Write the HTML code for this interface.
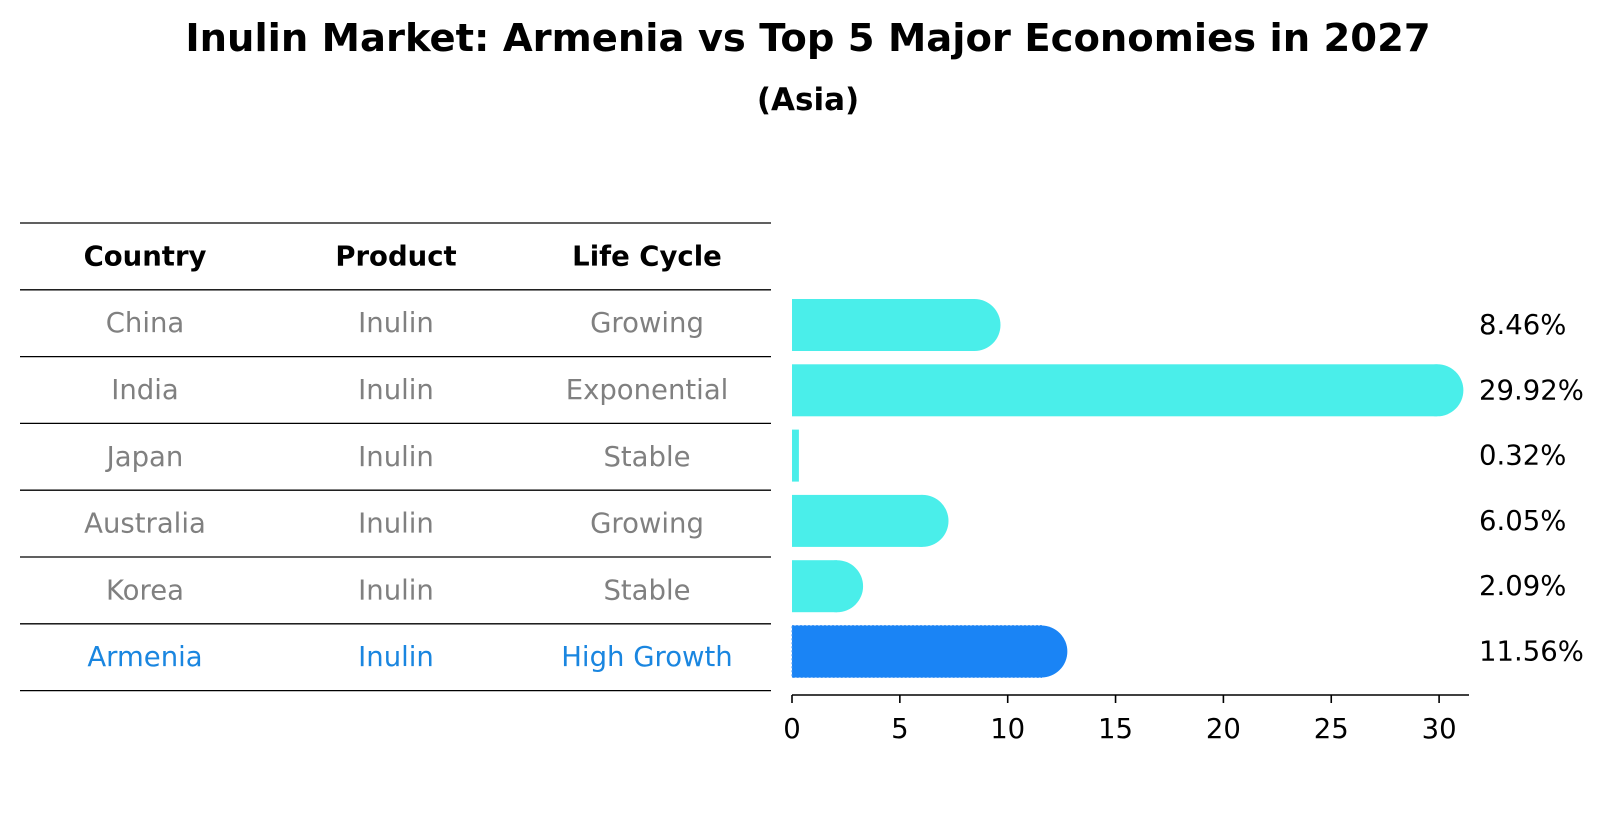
<!DOCTYPE html>
<html><head><meta charset="utf-8"><style>
body{margin:0;background:#fff}
svg{display:block;font-family:"DejaVu Sans","Liberation Sans",sans-serif}
</style></head><body>
<svg id="c" width="1604" height="823" viewBox="0 0 1604 823">
<text x="808" y="51" text-anchor="middle" font-size="38.5" font-weight="bold">Inulin Market: Armenia vs Top 5 Major Economies in 2027</text>
<text x="808" y="110" text-anchor="middle" font-size="31" font-weight="bold">(Asia)</text>
<g id="tbl"></g>
<g id="bars"></g>
</svg>
<script>
const countries=["China","India","Japan","Australia","Korea","Armenia"];
const products=["Inulin","Inulin","Inulin","Inulin","Inulin","Inulin"];
const lifeCycles=["Growing","Exponential","Stable","Growing","Stable","High Growth"];
const values=[8.46,29.92,0.32,6.05,2.09,11.56];
const valueLabels=["8.46%","29.92%","0.32%","6.05%","2.09%","11.56%"];
const ticks=[0,5,10,15,20,25,30];

const NS="http://www.w3.org/2000/svg";
function mk(tag,attrs,parent,text){const e=document.createElementNS(NS,tag);for(const k in attrs)e.setAttribute(k,attrs[k]);if(text!==undefined)e.textContent=text;parent.appendChild(e);return e;}
const tbl=document.getElementById('tbl');
const bars=document.getElementById('bars');
const lineY=i=>223+i*66.8;
const colX=[145,396,647];
const FS=27.5;
for(let i=0;i<=countries.length+1;i++){
  const l=mk('line',{x1:20,x2:771,y1:lineY(i),y2:lineY(i),stroke:'#000','stroke-width':1.3},tbl);
  
  
}
["Country","Product","Life Cycle"].forEach((h,j)=>{
  const t=mk('text',{x:colX[j],y:(lineY(0)+lineY(1))/2,'text-anchor':'middle','dominant-baseline':'central','font-size':FS,'font-weight':'bold'},tbl,h);
  
  
});
countries.forEach((c,i)=>{
  const y=(lineY(i+1)+lineY(i+2))/2;
  const col=c==="Armenia"?"#1a86e0":"#808080";
  [c,products[i],lifeCycles[i]].forEach((v,j)=>{
    const t=mk('text',{x:colX[j],y:y,'text-anchor':'middle','dominant-baseline':'central','font-size':FS,fill:col},tbl,v);
    
    
  });
});
const x0=792, pxPer=21.57;
const xs=v=>x0+v*pxPer;
const yc=i=>325+i*65.3;
const bh=52;
values.forEach((v,i)=>{
  const hi=countries[i]==="Armenia";
  const fill=hi?"#1a84f5":"#4aeeea";
  const g=mk('g',{},bars);
  
  
  mk('rect',{x:x0,y:yc(i)-bh/2,width:Math.max(xs(v)-x0,1),height:bh,fill:fill,stroke:hi?"#4a9af5":"none",'stroke-dasharray':hi?"2 2":"none"},g);
  if(v>1) mk('circle',{cx:xs(v),cy:yc(i),r:bh/2,fill:fill},g);
  const t=mk('text',{x:1479,y:yc(i),'dominant-baseline':'central','font-size':FS},bars,valueLabels[i]);
  
  
});
const ax=mk('line',{x1:x0,x2:1469,y1:695,y2:695,stroke:'#000','stroke-width':1.6},bars);


ticks.forEach(t=>{
  const tk=mk('line',{x1:xs(t),x2:xs(t),y1:695,y2:703,stroke:'#000','stroke-width':1.6},bars);
  
  
  const lb=mk('text',{x:xs(t),y:729,'text-anchor':'middle','dominant-baseline':'central','font-size':FS},bars,String(t));
  
  
});
</script>
</body></html>
